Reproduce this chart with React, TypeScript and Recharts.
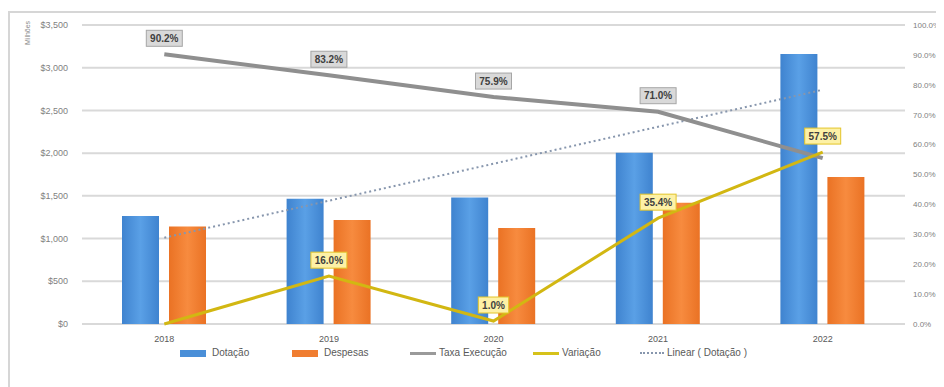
import React from "react";
import {
  ComposedChart,
  Bar,
  Line,
  XAxis,
  YAxis,
  CartesianGrid,
  LabelList,
} from "recharts";

const anos = ["2018", "2019", "2020", "2021", "2022"];
const dotacao = [1265, 1467, 1482, 2006, 3160];
const despesas = [1140, 1218, 1124, 1420, 1720];
const taxaExecucao = [90.2, 83.2, 75.9, 71.0, 55.5];
const variacao = [0, 16.0, 1.0, 35.4, 57.5];
const leftTicks = [0, 500, 1000, 1500, 2000, 2500, 3000, 3500];
const rightTicks = [0, 10, 20, 30, 40, 50, 60, 70, 80, 90, 100];

// linha de tendência linear (mínimos quadrados sobre a dotação)
const n = dotacao.length;
const mx = (n - 1) / 2;
const my = dotacao.reduce((a, b) => a + b, 0) / n;
const slope =
  dotacao.reduce((s, v, i) => s + (i - mx) * (v - my), 0) /
  dotacao.reduce((s, _v, i) => s + (i - mx) * (i - mx), 0);

const data = anos.map((ano, i) => ({
  ano,
  dotacao: dotacao[i],
  despesas: despesas[i],
  taxa: taxaExecucao[i],
  variacao: variacao[i],
  tendencia: my + slope * (i - mx),
}));

const FONT = "'Liberation Sans', Arial, sans-serif";

const fmtMoney = (v: number) => "$" + v.toLocaleString("en-US");
const fmtPct = (v: number) => v.toFixed(1) + "%";

function makeLabel(fill: string, stroke: string, skip: number[], offset: number) {
  return (props: any) => {
    const { x, y, value, index } = props;
    if (skip.includes(index)) return null;
    const txt = fmtPct(Number(value));
    const w = txt.length * 5.6 + 8;
    const h = 16;
    const cy = y - offset;
    return (
      <g>
        <rect x={x - w / 2} y={cy - h / 2} width={w} height={h} fill={fill} stroke={stroke} strokeWidth={1} />
        <text x={x} y={cy + 3.5} textAnchor="middle" fontSize={10} fontFamily={FONT} fill="#404040" fontWeight="bold">
          {txt}
        </text>
      </g>
    );
  };
}

const legendItems = [
  { label: "Dotação", kind: "bar", color: "#4a8fd8", left: 170 },
  { label: "Despesas", kind: "bar", color: "#f07d30", left: 282 },
  { label: "Taxa Execução", kind: "line", color: "#9a9a9a", left: 400 },
  { label: "Variação", kind: "line", color: "#d6c21a", left: 523 },
  { label: "Linear ( Dotação )", kind: "dot", color: "#8796ad", left: 630 },
];

export default function App() {
  return (
    <div
      style={{
        position: "relative",
        marginTop: 3,
        width: 934,
        height: 374,
        borderTop: "2px solid #d6d6d6",
        borderLeft: "2px solid #d6d6d6",
        fontFamily: FONT,
        overflow: "hidden",
      }}
    >
      <ComposedChart
        width={934}
        height={374}
        data={data}
        margin={{ top: 12, right: 0, bottom: 0, left: 0 }}
        barGap={10}
        barCategoryGap={40}
      >
        <defs>
          <linearGradient id="gBlue" x1="0" y1="0" x2="1" y2="0">
            <stop offset="0%" stopColor="#3f83cf" />
            <stop offset="50%" stopColor="#5aa0e6" />
            <stop offset="100%" stopColor="#3f83cf" />
          </linearGradient>
          <linearGradient id="gOrange" x1="0" y1="0" x2="1" y2="0">
            <stop offset="0%" stopColor="#ea7224" />
            <stop offset="50%" stopColor="#f78b3f" />
            <stop offset="100%" stopColor="#ea7224" />
          </linearGradient>
        </defs>
        <CartesianGrid yAxisId="left" vertical={false} stroke="#d9d9d9" strokeWidth={2} />
        <XAxis
          dataKey="ano"
          height={63}
          axisLine={false}
          tickLine={false}
          tickMargin={6}
          tick={{ fontSize: 9, fill: "#595959", fontFamily: FONT }}
        />
        <YAxis
          yAxisId="left"
          width={72}
          domain={[0, 3500]}
          ticks={leftTicks}
          tickFormatter={fmtMoney}
          axisLine={false}
          tickLine={false}
          tickMargin={8}
          tick={{ fontSize: 9, fill: "#7f7f7f", fontFamily: FONT }}
        />
        <YAxis
          yAxisId="right"
          orientation="right"
          width={39}
          domain={[0, 100]}
          ticks={rightTicks}
          tickFormatter={fmtPct}
          axisLine={false}
          tickLine={false}
          tickMargin={2}
          tick={{ fontSize: 8, fill: "#7f7f7f", fontFamily: FONT }}
        />
        <Bar yAxisId="left" dataKey="dotacao" fill="url(#gBlue)" barSize={37} isAnimationActive={false} />
        <Bar yAxisId="left" dataKey="despesas" fill="url(#gOrange)" barSize={37} isAnimationActive={false} />
        <Line
          yAxisId="left"
          dataKey="tendencia"
          stroke="#8796ad"
          strokeWidth={2}
          strokeDasharray="2 3"
          dot={false}
          isAnimationActive={false}
        />
        <Line
          yAxisId="right"
          dataKey="taxa"
          stroke="#8f8f8f"
          strokeWidth={4}
          dot={false}
          isAnimationActive={false}
        >
          <LabelList dataKey="taxa" content={makeLabel("#d9d9d9", "#a6a6a6", [4], 16)} />
        </Line>
        <Line
          yAxisId="right"
          dataKey="variacao"
          stroke="#d2b712"
          strokeWidth={3}
          dot={false}
          isAnimationActive={false}
        >
          <LabelList dataKey="variacao" content={makeLabel("#fdf1a6", "#e3c42a", [0], 16)} />
        </Line>
      </ComposedChart>
      <div
        style={{
          position: "absolute",
          left: 14,
          top: 32,
          fontSize: 7,
          color: "#8a8a8a",
          transform: "rotate(-90deg)",
          transformOrigin: "left top",
        }}
      >
        Milhões
      </div>
      {legendItems.map((it) => (
        <div
          key={it.label}
          style={{
            position: "absolute",
            left: it.left,
            top: 334,
            height: 12,
            lineHeight: "12px",
            display: "flex",
            alignItems: "center",
            fontSize: 10,
            color: "#595959",
            whiteSpace: "nowrap",
          }}
        >
          {it.kind === "bar" && (
            <span style={{ display: "inline-block", width: 26, height: 7, background: it.color, marginRight: 6 }} />
          )}
          {it.kind === "line" && (
            <span style={{ display: "inline-block", width: 26, height: 3, background: it.color, marginRight: 3 }} />
          )}
          {it.kind === "dot" && (
            <span
              style={{ display: "inline-block", width: 24, height: 0, borderTop: `2px dotted ${it.color}`, marginRight: 3 }}
            />
          )}
          {it.label}
        </div>
      ))}
    </div>
  );
}
